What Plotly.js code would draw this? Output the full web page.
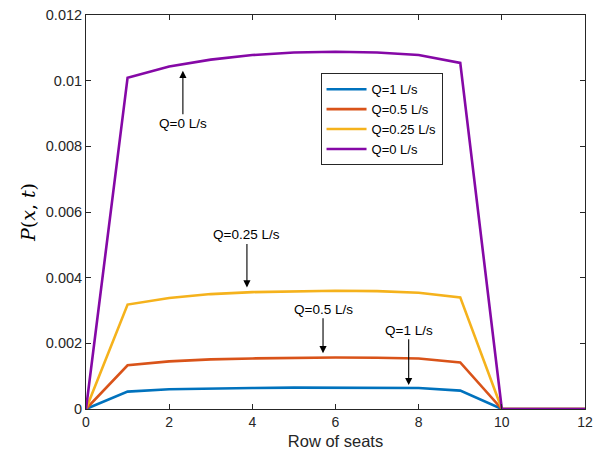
<!DOCTYPE html>
<html>
<head>
<meta charset="utf-8">
<script src="https://cdn.plot.ly/plotly-3.0.1.min.js"></script>
<style>html,body{margin:0;padding:0;background:#fff;}#chart{width:593px;height:457px;}</style>
</head>
<body>
<div id="chart"></div>
<script>
const rows = [0, 1, 2, 3, 4, 5, 6, 7, 8, 9, 10, 11, 12];
const seriesNames = ["Q=1 L/s", "Q=0.5 L/s", "Q=0.25 L/s", "Q=0 L/s"];
const q1 = [0, 0.00053, 0.00060, 0.00063, 0.00064, 0.00065, 0.00065, 0.00065, 0.00064, 0.00056, 0, 0, 0];
const q05 = [0, 0.00133, 0.00145, 0.00151, 0.00154, 0.00156, 0.00157, 0.00156, 0.00154, 0.00142, 0, 0, 0];
const q025 = [0, 0.00318, 0.00338, 0.00350, 0.00356, 0.00359, 0.00360, 0.00359, 0.00354, 0.00340, 0, 0, 0];
const q0 = [0, 0.01009, 0.01043, 0.01064, 0.01078, 0.01086, 0.01088, 0.01086, 0.01078, 0.01054, 0, 0, 0];
const colors = ["#0072BD", "#D95319", "#F5B21C", "#8508A6"];
const xTicks = [0, 2, 4, 6, 8, 10, 12];
const yTicks = [0, 0.002, 0.004, 0.006, 0.008, 0.01, 0.012];
const yTickText = ["0", "0.002", "0.004", "0.006", "0.008", "0.01", "0.012"];

// annotations: [label, head x, head y, text x, text y]
const notes = [
  ["Q=0 L/s", 2.33, 0.0103, 2.33, 0.0087],
  ["Q=0.25 L/s", 3.87, 0.0037, 3.87, 0.0053],
  ["Q=0.5 L/s", 5.7, 0.0017, 5.7, 0.00304],
  ["Q=1 L/s", 7.76, 0.00073, 7.76, 0.0024]
];

const allY = [q1, q05, q025, q0];
const traces = allY.map((ys, i) => ({
  x: rows, y: ys, type: "scatter", mode: "lines", name: seriesNames[i],
  line: {color: colors[i], width: 2.6}
}));

const sans = "Liberation Sans, Arial, sans-serif";
const layout = {
  width: 593, height: 457,
  margin: {l: 86, r: 8, t: 15, b: 48},
  paper_bgcolor: "#fff", plot_bgcolor: "#fff",
  font: {family: sans, size: 14, color: "#262626"},
  showlegend: true,
  legend: {
    x: 0.47, y: 0.852, xanchor: "left", yanchor: "top",
    bordercolor: "#262626", borderwidth: 1, bgcolor: "#fff",
    font: {family: sans, size: 13, color: "#000"},
    tracegroupgap: 0, itemwidth: 40
  },
  xaxis: {
    range: [0, 12], tickvals: xTicks, ticks: "inside", ticklen: 5, tickcolor: "#262626",
    tickfont: {family: sans, size: 14, color: "#262626"},
    showline: true, linecolor: "#262626", linewidth: 1, mirror: "ticks",
    showgrid: false, zeroline: false,
    title: {text: "Row of seats", font: {family: sans, size: 16.5, color: "#262626"}, standoff: 6}
  },
  yaxis: {
    range: [0, 0.012], tickvals: yTicks, ticktext: yTickText, ticks: "inside", ticklen: 5, tickcolor: "#262626",
    tickfont: {family: sans, size: 14.5, color: "#262626"},
    showline: true, linecolor: "#262626", linewidth: 1, mirror: "ticks",
    showgrid: false, zeroline: false,
    title: {text: "<i>P</i>(<i>x</i>, <i>t</i>)", font: {family: "DejaVu Serif, Liberation Serif, serif", size: 19, color: "#000"}, standoff: 5}
  },
  annotations: notes.map(n => ({
    text: n[0], x: n[1], y: n[2], ax: n[3], ay: n[4], axref: "x", ayref: "y",
    xref: "x", yref: "y", showarrow: true, arrowhead: 2, arrowsize: 1.3, arrowwidth: 1.1,
    arrowcolor: "#000", font: {family: sans, size: 13.5, color: "#000"},
    standoff: 0, startstandoff: 0
  }))
};

Plotly.newPlot("chart", traces, layout, {displayModeBar: false, staticPlot: true});
</script>
</body>
</html>
